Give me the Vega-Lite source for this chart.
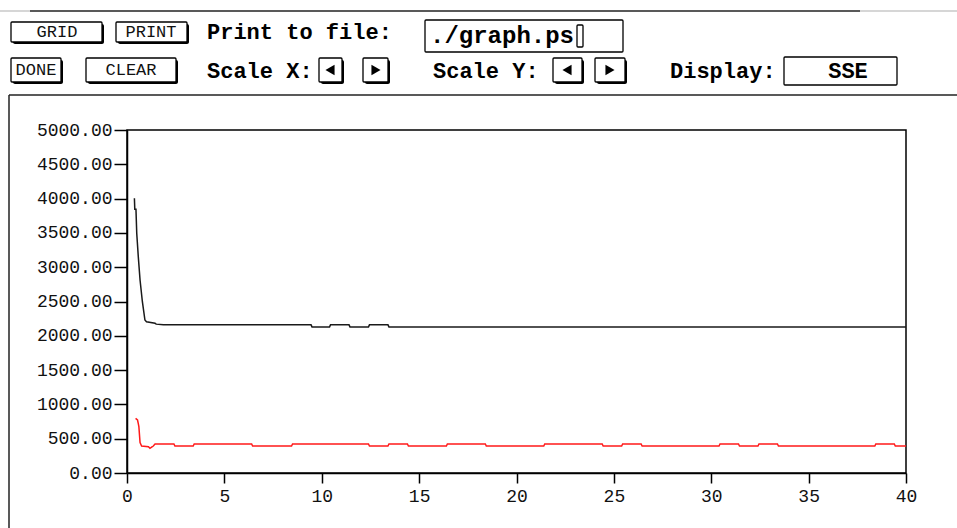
{
  "$schema": "https://vega.github.io/schema/vega-lite/v6.json",
  "width": 779,
  "height": 343,
  "autosize": {"type": "none"},
  "padding": {"left": 127, "top": 130, "right": 51, "bottom": 55},
  "background": "white",
  "config": {"view": {"stroke": "#000", "strokeWidth": 1.5}},
  "datasets": {
    "sse": [
      {"series": "train", "epoch": 0.38, "sse": 4005},
      {"series": "train", "epoch": 0.40, "sse": 3845},
      {"series": "train", "epoch": 0.46, "sse": 3845},
      {"series": "train", "epoch": 0.50, "sse": 3494},
      {"series": "train", "epoch": 0.58, "sse": 3153},
      {"series": "train", "epoch": 0.67, "sse": 2813},
      {"series": "train", "epoch": 0.79, "sse": 2497},
      {"series": "train", "epoch": 0.92, "sse": 2230},
      {"series": "train", "epoch": 1.0, "sse": 2205},
      {"series": "train", "epoch": 1.44, "sse": 2182},
      {"series": "train", "epoch": 1.5, "sse": 2170},
      {"series": "train", "epoch": 1.87, "sse": 2160},
      {"series": "train", "epoch": 9.45, "sse": 2160},
      {"series": "train", "epoch": 9.5, "sse": 2130},
      {"series": "train", "epoch": 10.4, "sse": 2130},
      {"series": "train", "epoch": 10.45, "sse": 2160},
      {"series": "train", "epoch": 11.4, "sse": 2160},
      {"series": "train", "epoch": 11.45, "sse": 2130},
      {"series": "train", "epoch": 12.4, "sse": 2130},
      {"series": "train", "epoch": 12.45, "sse": 2160},
      {"series": "train", "epoch": 13.4, "sse": 2160},
      {"series": "train", "epoch": 13.45, "sse": 2130},
      {"series": "train", "epoch": 40, "sse": 2130},
      {"series": "valid", "epoch": 0.44, "sse": 797},
      {"series": "valid", "epoch": 0.54, "sse": 773},
      {"series": "valid", "epoch": 0.58, "sse": 720},
      {"series": "valid", "epoch": 0.61, "sse": 675},
      {"series": "valid", "epoch": 0.67, "sse": 442},
      {"series": "valid", "epoch": 0.75, "sse": 394},
      {"series": "valid", "epoch": 1.1, "sse": 383},
      {"series": "valid", "epoch": 1.18, "sse": 360},
      {"series": "valid", "epoch": 1.3, "sse": 383},
      {"series": "valid", "epoch": 1.35, "sse": 394},
      {"series": "valid", "epoch": 1.44, "sse": 423},
      {"series": "valid", "epoch": 2.41, "sse": 423},
      {"series": "valid", "epoch": 2.46, "sse": 394},
      {"series": "valid", "epoch": 3.4, "sse": 394},
      {"series": "valid", "epoch": 3.45, "sse": 423},
      {"series": "valid", "epoch": 6.4, "sse": 423},
      {"series": "valid", "epoch": 6.45, "sse": 394},
      {"series": "valid", "epoch": 8.45, "sse": 394},
      {"series": "valid", "epoch": 8.5, "sse": 423},
      {"series": "valid", "epoch": 12.4, "sse": 423},
      {"series": "valid", "epoch": 12.45, "sse": 394},
      {"series": "valid", "epoch": 13.4, "sse": 394},
      {"series": "valid", "epoch": 13.45, "sse": 423},
      {"series": "valid", "epoch": 14.4, "sse": 423},
      {"series": "valid", "epoch": 14.45, "sse": 394},
      {"series": "valid", "epoch": 16.4, "sse": 394},
      {"series": "valid", "epoch": 16.45, "sse": 423},
      {"series": "valid", "epoch": 18.4, "sse": 423},
      {"series": "valid", "epoch": 18.45, "sse": 394},
      {"series": "valid", "epoch": 21.4, "sse": 394},
      {"series": "valid", "epoch": 21.45, "sse": 423},
      {"series": "valid", "epoch": 24.4, "sse": 423},
      {"series": "valid", "epoch": 24.45, "sse": 394},
      {"series": "valid", "epoch": 25.4, "sse": 394},
      {"series": "valid", "epoch": 25.45, "sse": 423},
      {"series": "valid", "epoch": 26.4, "sse": 423},
      {"series": "valid", "epoch": 26.45, "sse": 394},
      {"series": "valid", "epoch": 30.4, "sse": 394},
      {"series": "valid", "epoch": 30.45, "sse": 423},
      {"series": "valid", "epoch": 31.4, "sse": 423},
      {"series": "valid", "epoch": 31.45, "sse": 394},
      {"series": "valid", "epoch": 32.4, "sse": 394},
      {"series": "valid", "epoch": 32.45, "sse": 423},
      {"series": "valid", "epoch": 33.4, "sse": 423},
      {"series": "valid", "epoch": 33.45, "sse": 394},
      {"series": "valid", "epoch": 38.4, "sse": 394},
      {"series": "valid", "epoch": 38.45, "sse": 423},
      {"series": "valid", "epoch": 39.4, "sse": 423},
      {"series": "valid", "epoch": 39.45, "sse": 394},
      {"series": "valid", "epoch": 40, "sse": 394}
    ],
    "widgets": [
      {"kind": "button", "x0": 11, "x1": 102, "y0": 22, "y1": 42},
      {"kind": "button", "x0": 116, "x1": 187, "y0": 22, "y1": 42},
      {"kind": "button", "x0": 11, "x1": 61, "y0": 58, "y1": 82},
      {"kind": "button", "x0": 86, "x1": 176, "y0": 58, "y1": 82},
      {"kind": "button", "x0": 319, "x1": 342, "y0": 58, "y1": 82},
      {"kind": "button", "x0": 363, "x1": 388, "y0": 58, "y1": 82},
      {"kind": "button", "x0": 553, "x1": 582, "y0": 58, "y1": 82},
      {"kind": "button", "x0": 595, "x1": 625, "y0": 58, "y1": 82},
      {"kind": "field", "x0": 425, "x1": 623, "y0": 20, "y1": 52},
      {"kind": "field", "x0": 784, "x1": 897, "y0": 57, "y1": 85},
      {"kind": "cursor", "x0": 577, "x1": 583, "y0": 25, "y1": 47}
    ],
    "labels": [
      {"kind": "button", "text": "GRID", "x": 57, "y": 32},
      {"kind": "button", "text": "PRINT", "x": 151, "y": 32},
      {"kind": "button", "text": "DONE", "x": 36, "y": 70},
      {"kind": "button", "text": "CLEAR", "x": 131, "y": 70},
      {"kind": "static", "text": "Print to file:", "x": 207, "y": 32},
      {"kind": "static", "text": "Scale X:", "x": 207, "y": 71},
      {"kind": "static", "text": "Scale Y:", "x": 433, "y": 71},
      {"kind": "static", "text": "Display:", "x": 670, "y": 71},
      {"kind": "entry", "text": "./graph.ps", "x": 430, "y": 36},
      {"kind": "value", "text": "SSE", "x": 848, "y": 71}
    ],
    "arrows": [
      {"dir": "left", "x": 330, "y": 70},
      {"dir": "right", "x": 376, "y": 70},
      {"dir": "left", "x": 567, "y": 70},
      {"dir": "right", "x": 610, "y": 70}
    ],
    "frame": [
      {"tone": "light", "x0": 0, "x1": 30, "y0": 11, "y1": 11},
      {"tone": "dark", "x0": 30, "x1": 860, "y0": 11, "y1": 11},
      {"tone": "light", "x0": 860, "x1": 957, "y0": 11, "y1": 11},
      {"tone": "dark", "x0": 9, "x1": 957, "y0": 95, "y1": 95},
      {"tone": "dark", "x0": 9, "x1": 9, "y0": 95, "y1": 528}
    ]
  },
  "layer": [
    {
      "data": {"name": "sse"},
      "mark": {"type": "line", "strokeWidth": 1.5},
      "encoding": {
        "x": {
          "field": "epoch", "type": "quantitative",
          "scale": {"domain": [0, 40], "nice": false, "zero": false},
          "axis": {
            "values": [0, 5, 10, 15, 20, 25, 30, 35, 40],
            "title": null, "grid": false,
            "tickSize": 10, "tickWidth": 1.5, "tickColor": "#000",
            "domainWidth": 1.5, "domainColor": "#000",
            "labelFont": "Liberation Mono", "labelFontSize": 18, "labelColor": "#111",
            "labelPadding": 4, "labelFlush": false, "labelOverlap": false
          }
        },
        "y": {
          "field": "sse", "type": "quantitative",
          "scale": {"domain": [0, 5000], "nice": false},
          "axis": {
            "values": [0, 500, 1000, 1500, 2000, 2500, 3000, 3500, 4000, 4500, 5000],
            "format": ".2f",
            "title": null, "grid": false,
            "tickSize": 13, "tickWidth": 1.5, "tickColor": "#000",
            "domainWidth": 1.5, "domainColor": "#000",
            "labelFont": "Liberation Mono", "labelFontSize": 18, "labelColor": "#111",
            "labelPadding": 2, "labelFlush": false, "labelOverlap": false
          }
        },
        "color": {
          "field": "series", "type": "nominal",
          "scale": {"domain": ["train", "valid"], "range": ["#1a1a1a", "#ff1a1a"]},
          "legend": null
        }
      }
    },
    {
      "layer": [
        {
          "data": {"name": "frame"},
          "mark": {"type": "rule", "strokeWidth": 1.5},
          "encoding": {
            "x": {"field": "x0", "type": "quantitative", "scale": {"domain": [127, 906], "nice": false, "zero": false}, "axis": null},
            "x2": {"field": "x1"},
            "y": {"field": "y0", "type": "quantitative", "scale": {"domain": [130, 473], "nice": false, "zero": false, "reverse": true}, "axis": null},
            "y2": {"field": "y1"},
            "color": {"field": "tone", "type": "nominal", "scale": {"domain": ["dark", "light"], "range": ["#222", "#c8c8c8"]}, "legend": null}
          }
        },
        {
          "data": {"name": "widgets"},
          "transform": [{"filter": "datum.kind == 'button'"}],
          "mark": {"type": "rect", "fill": "#000", "xOffset": 2, "x2Offset": 2, "yOffset": 2, "y2Offset": 2, "cornerRadius": 2},
          "encoding": {
            "x": {"field": "x0", "type": "quantitative", "scale": {"domain": [127, 906], "nice": false, "zero": false}, "axis": null},
            "x2": {"field": "x1"},
            "y": {"field": "y0", "type": "quantitative", "scale": {"domain": [130, 473], "nice": false, "zero": false, "reverse": true}, "axis": null},
            "y2": {"field": "y1"}
          }
        },
        {
          "data": {"name": "widgets"},
          "mark": {"type": "rect", "fill": "#fff", "stroke": "#000", "strokeWidth": 1.3, "cornerRadius": 1},
          "encoding": {
            "x": {"field": "x0", "type": "quantitative", "scale": {"domain": [127, 906], "nice": false, "zero": false}, "axis": null},
            "x2": {"field": "x1"},
            "y": {"field": "y0", "type": "quantitative", "scale": {"domain": [130, 473], "nice": false, "zero": false, "reverse": true}, "axis": null},
            "y2": {"field": "y1"}
          }
        },
        {
          "data": {"name": "labels"},
          "transform": [{"filter": "datum.kind == 'button'"}],
          "mark": {"type": "text", "font": "Liberation Mono", "fontSize": 17, "align": "center", "baseline": "middle", "color": "#111"},
          "encoding": {
            "x": {"field": "x", "type": "quantitative", "scale": {"domain": [127, 906], "nice": false, "zero": false}, "axis": null},
            "y": {"field": "y", "type": "quantitative", "scale": {"domain": [130, 473], "nice": false, "zero": false, "reverse": true}, "axis": null},
            "text": {"field": "text"}
          }
        },
        {
          "data": {"name": "labels"},
          "transform": [{"filter": "datum.kind == 'static'"}],
          "mark": {"type": "text", "font": "Liberation Mono", "fontSize": 22, "fontWeight": "bold", "align": "left", "baseline": "middle", "color": "#000"},
          "encoding": {
            "x": {"field": "x", "type": "quantitative", "scale": {"domain": [127, 906], "nice": false, "zero": false}, "axis": null},
            "y": {"field": "y", "type": "quantitative", "scale": {"domain": [130, 473], "nice": false, "zero": false, "reverse": true}, "axis": null},
            "text": {"field": "text"}
          }
        },
        {
          "data": {"name": "labels"},
          "transform": [{"filter": "datum.kind == 'entry'"}],
          "mark": {"type": "text", "font": "Liberation Mono", "fontSize": 24, "fontWeight": "bold", "align": "left", "baseline": "middle", "color": "#000"},
          "encoding": {
            "x": {"field": "x", "type": "quantitative", "scale": {"domain": [127, 906], "nice": false, "zero": false}, "axis": null},
            "y": {"field": "y", "type": "quantitative", "scale": {"domain": [130, 473], "nice": false, "zero": false, "reverse": true}, "axis": null},
            "text": {"field": "text"}
          }
        },
        {
          "data": {"name": "labels"},
          "transform": [{"filter": "datum.kind == 'value'"}],
          "mark": {"type": "text", "font": "Liberation Mono", "fontSize": 22, "fontWeight": "bold", "align": "center", "baseline": "middle", "color": "#000"},
          "encoding": {
            "x": {"field": "x", "type": "quantitative", "scale": {"domain": [127, 906], "nice": false, "zero": false}, "axis": null},
            "y": {"field": "y", "type": "quantitative", "scale": {"domain": [130, 473], "nice": false, "zero": false, "reverse": true}, "axis": null},
            "text": {"field": "text"}
          }
        },
        {
          "data": {"name": "arrows"},
          "mark": {"type": "point", "filled": true, "size": 110, "color": "#000", "opacity": 1},
          "encoding": {
            "x": {"field": "x", "type": "quantitative", "scale": {"domain": [127, 906], "nice": false, "zero": false}, "axis": null},
            "y": {"field": "y", "type": "quantitative", "scale": {"domain": [130, 473], "nice": false, "zero": false, "reverse": true}, "axis": null},
            "shape": {"field": "dir", "type": "nominal", "scale": {"domain": ["left", "right"], "range": ["triangle-left", "triangle-right"]}, "legend": null}
          }
        }
      ]
    }
  ],
  "resolve": {"scale": {"x": "independent", "y": "independent", "color": "independent", "shape": "independent"}, "axis": {"x": "independent", "y": "independent"}}
}
